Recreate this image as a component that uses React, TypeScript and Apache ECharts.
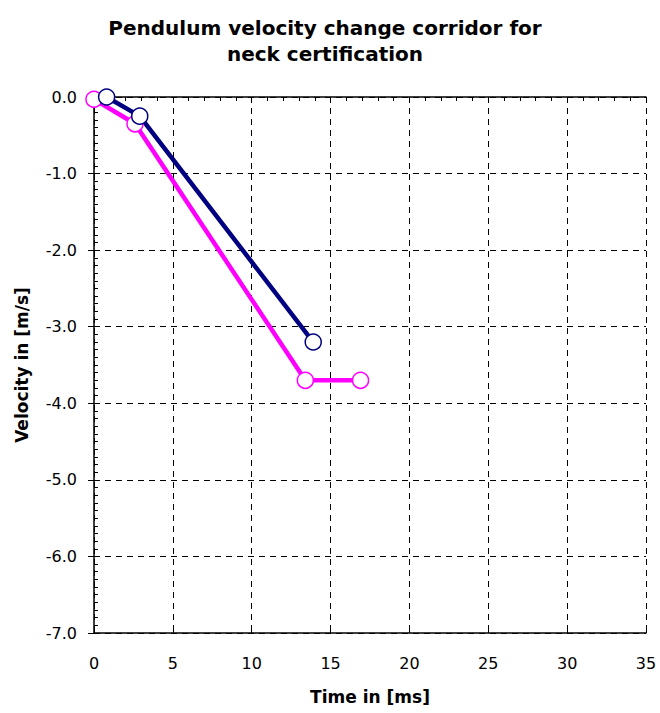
import React, { useEffect, useRef } from "react";
import * as echarts from "echarts";

const titleLines = ["Pendulum velocity change corridor for", "neck certification"];
const xName = "Time in [ms]";
const yName = "Velocity in [m/s]";
const upperCorridor: [number, number][] = [
  [0.8, 0.0],
  [2.9, -0.25],
  [13.9, -3.2],
];
const lowerCorridor: [number, number][] = [
  [0.0, -0.03],
  [2.6, -0.35],
  [13.4, -3.7],
  [16.9, -3.7],
];
const xMin = 0;
const xMax = 35;
const xStep = 5;
const yMin = -7;
const yMax = 0;
const yStep = 1;

export default function App() {
  const ref = useRef<HTMLDivElement>(null);
  useEffect(() => {
    if (!ref.current) return;
    const chart = echarts.init(ref.current, undefined, { renderer: "svg" });
    const font = "DejaVu Sans, Verdana, sans-serif";
    const axisLine = { show: true, onZero: false, lineStyle: { color: "#000", width: 1.5 } };
    const dashed = { show: true, lineStyle: { color: "#000", type: [6, 5], width: 1 } };
    chart.setOption({
      animation: false,
      backgroundColor: "#ffffff",
      title: {
        text: titleLines.join("\n"),
        left: 320,
        top: 10,
        textAlign: "center",
        textStyle: {
          fontFamily: font,
          fontWeight: "bold",
          fontSize: 20,
          lineHeight: 26,
          color: "#000",
        },
      },
      grid: { left: 94, right: 14, top: 97, bottom: 80, show: false },
      xAxis: [
        {
          type: "value",
          min: xMin,
          max: xMax,
          interval: xStep,
          position: "bottom",
          name: xName,
          nameLocation: "middle",
          nameGap: 55,
          nameTextStyle: { fontFamily: font, fontWeight: "bold", fontSize: 17, color: "#000" },
          axisLine,
          axisTick: { show: true, inside: true, length: 5, lineStyle: { color: "#000" } },
          axisLabel: { fontFamily: font, fontSize: 16, color: "#000", margin: 22 },
          splitLine: dashed,
        },
        {
          type: "value",
          min: xMin,
          max: xMax,
          interval: xStep,
          position: "top",
          axisLine,
          axisTick: { show: true, inside: true, length: 5, lineStyle: { color: "#000" } },
          minorTick: { show: true, splitNumber: 5, length: 4, lineStyle: { color: "#000" } },
          axisLabel: { show: false },
          splitLine: { show: false },
        },
      ],
      yAxis: [
        {
          type: "value",
          min: yMin,
          max: yMax,
          interval: yStep,
          position: "left",
          name: yName,
          nameLocation: "middle",
          nameGap: 64,
          nameTextStyle: { fontFamily: font, fontWeight: "bold", fontSize: 17, color: "#000" },
          axisLine,
          axisTick: { show: true, inside: false, length: 6, lineStyle: { color: "#000" } },
          axisLabel: {
            fontFamily: font,
            fontSize: 16,
            color: "#000",
            margin: 17,
            formatter: (v: number) => v.toFixed(1),
          },
          splitLine: dashed,
        },
        {
          type: "value",
          min: yMin,
          max: yMax,
          interval: yStep,
          position: "left",
          axisLine: { show: false },
          axisTick: { show: true, inside: true, length: 5, lineStyle: { color: "#000" } },
          minorTick: { show: true, splitNumber: 10, length: 4, lineStyle: { color: "#000" } },
          axisLabel: { show: false },
          splitLine: { show: false },
        },
      ],
      series: [
        {
          type: "line",
          data: lowerCorridor,
          xAxisIndex: 0,
          yAxisIndex: 0,
          lineStyle: { color: "#ff00ff", width: 4.5 },
          itemStyle: { color: "#ffffff", borderColor: "#ff00ff", borderWidth: 1.5 },
          symbol: "circle",
          symbolSize: 16,
          showAllSymbol: true,
        },
        {
          type: "line",
          data: upperCorridor,
          xAxisIndex: 0,
          yAxisIndex: 0,
          lineStyle: { color: "#000080", width: 4.5 },
          itemStyle: { color: "#ffffff", borderColor: "#000080", borderWidth: 1.5 },
          symbol: "circle",
          symbolSize: 16,
          showAllSymbol: true,
        },
      ],
    });
    return () => chart.dispose();
  }, []);
  return (
    <div
      ref={ref}
      style={{ position: "absolute", left: 0, top: 0, width: 660, height: 713 }}
    />
  );
}
